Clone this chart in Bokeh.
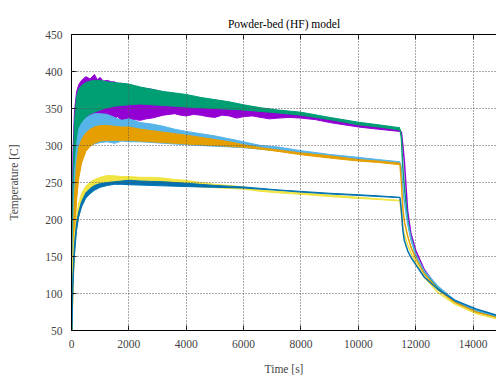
from bokeh.plotting import figure
from bokeh.models import LinearAxis, FixedTicker, Range1d
from bokeh.embed import file_html
from bokeh.resources import INLINE

# ---- data ----
time_s = [0, 50, 100, 175, 250, 350, 500, 650, 800, 1000, 1250, 1500, 1750, 2000, 2400,
          2800, 3200, 3600, 4000, 4500, 5000, 5500, 6000, 6600, 7200, 8000, 9000, 10000, 10700, 11450]

purple_time = [0, 50, 100, 175, 250, 350, 500, 650, 800, 900, 1000, 1100, 1250, 1400, 1500, 1600,
               1750, 1900, 2000, 2200, 2400, 2600, 2800, 3000, 3200, 3400, 3600, 3800, 4000, 4250,
               4500, 4750, 5000, 5250, 5500, 5750, 6000, 6300, 6600, 6900, 7200, 7600, 8000, 8500,
               9000, 9500, 10000, 10700, 11450]
purple_upper = [25, 290, 345, 372, 382, 388, 393, 390, 396, 389, 392, 387, 388, 386, 386, 384,
                384, 383, 381, 380, 378, 377, 376, 374, 372, 371, 370, 368, 367, 365,
                364, 362, 360, 358, 357, 355, 354, 352, 350, 349, 347, 345, 343, 340,
                337, 334, 330, 326, 321]
purple_lower = [25, 200, 270, 300, 315, 325, 333, 338, 342, 340, 341, 343, 340, 338, 336, 339,
                334, 333, 336, 335, 334, 336, 337, 339, 341, 342, 343, 341, 340, 342,
                341, 339, 338, 341, 340, 337, 339, 340, 338, 336, 337, 338, 337, 335,
                331, 328, 325, 322, 319]

green_upper = [25, 250, 330, 365, 376, 381, 385, 387, 388, 388, 386, 385, 384, 383, 379,
               376, 373, 371, 369, 365, 362, 359, 355, 351, 348, 345, 338, 331.5, 328, 324]
green_lower = [25, 150, 230, 280, 310, 328, 338, 343, 345, 348, 351, 353, 354, 355, 356,
               355, 354, 353, 352, 351, 350, 349, 348, 346, 344, 341, 335, 328, 325, 321]

lblue_upper = [25, 180, 260, 300, 322, 330, 337, 341, 343, 343, 342, 338, 334, 336, 331,
               329, 326, 322, 319, 316, 313, 309, 305, 300, 298, 293, 288, 284, 281, 278]
lblue_lower = [25, 120, 190, 240, 265, 283, 295, 300, 302, 304, 305, 303, 306, 305, 305,
               304, 303, 302, 301, 300, 299, 298, 297, 295, 293, 289, 285, 281, 279, 276]

orange_upper = [25, 150, 230, 275, 297, 308, 317, 322, 325, 327, 327, 326, 325, 325, 322,
                320, 318, 316, 314, 311, 308, 305, 301, 297, 294, 290, 286, 281, 279, 276]
orange_lower = [25, 100, 170, 225, 255, 276, 292, 299, 303, 306, 307, 307, 307, 307, 306,
                305, 304, 303, 302, 301, 300, 299, 297.5, 295, 292, 287.5, 283, 279, 277, 274]

yellow_upper = [25, 150, 178, 203, 222, 235, 245, 250.5, 254, 257, 259.5, 259, 258, 258, 257,
                257, 256, 254, 253, 250, 247.5, 246, 244, 239.5, 238, 236, 233, 230, 228, 226]
yellow_lower = [25, 100, 155, 185, 205, 220, 232, 238, 242, 245, 247, 249, 249, 249, 249,
                248, 247, 246, 245, 244, 243, 242, 241, 238, 236, 234, 231, 228.5, 227, 225]

blue_upper = [25, 125, 165, 195, 210, 224, 236, 242, 246, 248.5, 250, 251, 252, 253, 252,
              251.5, 251, 250, 249, 247.5, 246, 245, 244, 242, 240, 238, 235.5, 233.5, 232, 230]
blue_lower = [25, 110, 150, 185, 203, 217, 229, 235, 239.5, 243.5, 246, 247.5, 247.5, 247, 246.5,
              246, 245.5, 245, 244.5, 244, 243.5, 243, 242.5, 241, 239.5, 237, 234.5, 232.5, 231, 229.5]

cool_time = [11450, 11500, 11550, 11600, 11716, 11830, 12000, 12300, 12760, 13350, 14100, 14860, 15000]
purple_cool = [320, 318, 300, 280, 212, 181, 158, 132, 108, 89, 75, 68, 67]
green_cool = [322.5, 310, 270, 245, 200, 175, 152, 129, 108, 90, 77, 68, 67]
lblue_cool = [277, 270, 245, 225, 195, 174, 152, 130, 110, 91, 77, 68.5, 67]
orange_cool = [275, 250, 215, 198, 178, 163, 147, 126, 106, 88, 75, 67, 66]
yellow_cool = [225.5, 205, 190, 180, 166, 155, 142, 122, 102, 86, 73, 65.5, 64.5]
blue_cool = [229.8, 212, 186, 172, 158, 149, 139, 122, 106, 91, 79, 70, 69]

x_ticks = [0, 2000, 4000, 6000, 8000, 10000, 12000, 14000]
y_ticks = [50, 100, 150, 200, 250, 300, 350, 400, 450]

series = [
    ("#9400d3", purple_time, purple_upper, purple_lower, purple_cool),
    ("#009e73", time_s, green_upper, green_lower, green_cool),
    ("#56b4e9", time_s, lblue_upper, lblue_lower, lblue_cool),
    ("#e69f00", time_s, orange_upper, orange_lower, orange_cool),
    ("#f0e442", time_s, yellow_upper, yellow_lower, yellow_cool),
    ("#0072b2", time_s, blue_upper, blue_lower, blue_cool),
]

FONT = "Liberation Serif"

p = figure(width=496, height=381, output_backend="svg", toolbar_location=None,
           x_range=Range1d(0, 14815), y_range=Range1d(50, 450),
           min_border_left=71, min_border_right=0, min_border_top=34, min_border_bottom=51,
           title="Powder-bed (HF) model")
p.outline_line_color = None
p.background_fill_color = "white"
p.border_fill_color = "white"

for color, t, up, lo, cool in series:
    p.varea(x=t, y1=lo, y2=up, fill_color=color, fill_alpha=1.0)
    p.line(x=t, y=up, line_color=color, line_width=1)
    p.line(x=t, y=lo, line_color=color, line_width=1)
    p.line(x=cool_time, y=cool, line_color=color, line_width=1.5)

p.title.align = "center"
p.title.text_font = FONT
p.title.text_font_size = "11.5px"
p.title.text_font_style = "normal"
p.title.text_color = "black"

for ax in (p.xaxis[0], p.yaxis[0]):
    ax.major_label_text_font = FONT
    ax.major_label_text_font_size = "11.5px"
    ax.axis_label_text_font = FONT
    ax.axis_label_text_font_size = "11.5px"
    ax.axis_label_text_font_style = "normal"
    ax.major_tick_in = 5
    ax.major_tick_out = 0
    ax.minor_tick_in = 0
    ax.minor_tick_out = 0
    ax.axis_line_color = "black"
    ax.major_tick_line_color = "black"

p.xaxis[0].ticker = FixedTicker(ticks=x_ticks)
p.yaxis[0].ticker = FixedTicker(ticks=y_ticks)
p.xaxis[0].axis_label = "Time [s]"
p.yaxis[0].axis_label = "Temperature [C]"
p.xaxis[0].major_label_standoff = 9
p.yaxis[0].major_label_standoff = 9
p.xaxis[0].axis_label_standoff = 12
p.yaxis[0].axis_label_standoff = 22

top = LinearAxis(ticker=FixedTicker(ticks=x_ticks), major_label_text_color=None,
                 major_label_text_font_size="1px", major_tick_in=5, major_tick_out=0,
                 minor_tick_in=0, minor_tick_out=0, axis_line_color="black")
p.add_layout(top, "above")

p.xgrid.ticker = FixedTicker(ticks=x_ticks)
p.ygrid.ticker = FixedTicker(ticks=y_ticks)
for g in (p.xgrid[0], p.ygrid[0]):
    g.grid_line_color = "#555555"
    g.grid_line_dash = "1 2"
    g.grid_line_width = 1
    g.level = "overlay"

open("out.html", "w").write(file_html(p, INLINE))
